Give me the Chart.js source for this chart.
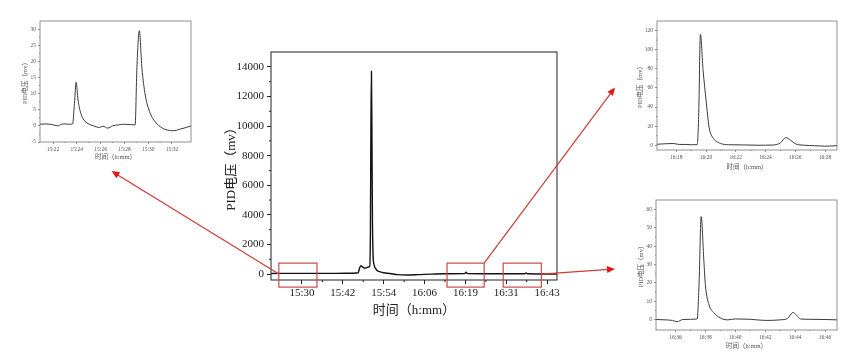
<!DOCTYPE html>
<html>
<head>
<meta charset="utf-8">
<script src="https://cdn.jsdelivr.net/npm/chart.js@4.4.1/dist/chart.umd.min.js"></script>
<style>
  html, body { margin: 0; padding: 0; background: #fff; }
  #page { position: relative; width: 850px; height: 360px; overflow: hidden; background: #fff; }
  #page canvas { position: absolute; }
  #overlay { pointer-events: none; }
</style>
</head>
<body>
<div id="page">
  <canvas id="mainChart" width="350" height="280" style="left:215px;top:40px"></canvas>
  <canvas id="inset1" width="200" height="165" style="left:0px;top:0px"></canvas>
  <canvas id="inset2" width="230" height="172" style="left:620px;top:0px"></canvas>
  <canvas id="inset3" width="230" height="175" style="left:620px;top:185px"></canvas>
  <canvas id="overlay" width="850" height="360" style="left:0;top:0"></canvas>
</div>
<script>
// time values are minutes after 15:00, voltages in mv

// main chart (whole run)
var mainTime = [20.9, 30, 40, 45, 46.5, 46.9, 47.3, 47.8, 48.5, 49.0, 49.5, 49.9, 50.1, 50.25, 50.4, 50.55, 50.7, 50.9, 51.2, 51.6, 52.2, 53, 54, 55.9, 58, 61, 64, 68, 72, 77.8, 78.2, 78.6, 85, 92, 95.4, 95.8, 96.2, 100, 104.9];
var mainMv = [40, 50, 50, 60, 90, 400, 560, 480, 400, 440, 480, 520, 3000, 10000, 13700, 9000, 3500, 1200, 600, 380, 220, 150, 90, 40, -40, -60, -40, 0, 20, 30, 130, 30, 20, 20, 20, 80, 20, 10, 10];
var mainXTickPos = [30, 42, 54, 66, 78, 90, 102];
var mainXTickLabels = ['15:30', '15:42', '15:54', '16:06', '16:19', '16:31', '16:43'];
var mainYTicks = [0, 2000, 4000, 6000, 8000, 10000, 12000, 14000];

// inset 1 (15:21 - 15:33)
var inset1Time = [20.9, 21.4, 21.9, 22.4, 22.7, 23.0, 23.4, 23.64, 23.8, 23.94, 24.1, 24.33, 24.6, 24.94, 25.4, 25.9, 26.2, 26.6, 27.0, 27.5, 28.0, 28.5, 28.9, 29.05, 29.25, 29.47, 29.75, 30.17, 30.6, 31.15, 31.6, 32.2, 32.6, 33.1, 33.6];
var inset1Mv = [0.5, 0.6, 0.4, 0.0, 0.5, 0.6, 0.5, 0.6, 7, 13.5, 8, 3.9, 1.8, 0.7, 0.0, -0.5, -0.1, -0.7, 0.0, 0.3, 0.5, 0.4, 0.3, 18, 29.5, 18, 9.6, 3.9, 1.2, -0.6, -1.3, -1.5, -1.1, -0.6, 0];
var inset1XTicks = ['15:22', '15:24', '15:26', '15:28', '15:30', '15:32'];
var inset1YTicks = [-5, 0, 5, 10, 15, 20, 25, 30];

// inset 2 (16:17 - 16:29)
var inset2Time = [76.7, 77.2, 77.8, 78.2, 78.6, 79.0, 79.4, 79.5, 79.62, 79.8, 80.0, 80.2, 80.5, 80.95, 81.5, 82.5, 83.5, 84.5, 85.0, 85.35, 85.7, 86.0, 86.6, 87.3, 88.0, 88.8];
var inset2Mv = [1.0, 1.5, 1.8, 0.8, 0.8, 0.5, 0.6, 30, 116, 78, 47, 19, 7, 2, 0.5, 0.3, 0, 0.2, 2.5, 8, 5, 1.5, 0, -0.5, -1, -0.5];
var inset2XTicks = ['16:18', '16:20', '16:22', '16:24', '16:26', '16:28'];
var inset2YTicks = [0, 20, 40, 60, 80, 100, 120];

// inset 3 (16:35 - 16:47)
var inset3Time = [94.7, 95.3, 95.8, 96.1, 96.5, 97.0, 97.45, 97.58, 97.72, 97.9, 98.0, 98.25, 98.55, 99.0, 99.5, 100.0, 101.0, 102.0, 103.0, 103.5, 103.85, 104.1, 104.35, 105.0, 106.0, 106.8];
var inset3Mv = [0.2, 0.0, -0.3, -1.0, 0.2, 0.3, 0.5, 20, 56, 32, 19, 8, 4, 1, 0, 0.5, 0.3, -0.3, 0, 0.8, 4, 2.5, 0.5, 0.3, 0.2, 0];
var inset3XTicks = ['16:36', '16:38', '16:40', '16:42', '16:44', '16:46'];
var inset3YTicks = [0, 10, 20, 30, 40, 50, 60];

var serif = "'Liberation Serif', 'Noto Sans CJK SC', serif";
var red = '#c94a47';

// "16:20" -> minutes after 15:00
function toMin(s) {
  var p = s.split(':');
  return (parseInt(p[0], 10) - 15) * 60 + parseInt(p[1], 10);
}

function points(xs, ys) {
  return xs.map(function (x, i) { return { x: x, y: ys[i] }; });
}

// frame round the plot plus small minor ticks between the major ones
var framePlugin = {
  id: 'frame',
  afterDraw: function (chart) {
    var o = chart.options.plugins.frame;
    var ctx = chart.ctx, a = chart.chartArea;
    var xs = chart.scales.x, ys = chart.scales.y;
    ctx.save();
    ctx.strokeStyle = o.color;
    ctx.lineWidth = o.width;
    ctx.strokeRect(a.left, a.top, a.right - a.left, a.bottom - a.top);
    ctx.beginPath();
    for (var i = 0; i < xs.ticks.length - 1; i++) {
      var mx = xs.getPixelForValue((xs.ticks[i].value + xs.ticks[i + 1].value) / 2);
      ctx.moveTo(mx, a.bottom);
      ctx.lineTo(mx, a.bottom + o.minor);
    }
    for (var j = 0; j < ys.ticks.length - 1; j++) {
      var my = ys.getPixelForValue((ys.ticks[j].value + ys.ticks[j + 1].value) / 2);
      ctx.moveTo(a.left, my);
      ctx.lineTo(a.left - o.minor, my);
    }
    ctx.stroke();
    ctx.restore();
  }
};

function makeChart(id, time, mv, cfg) {
  var tickFont = { family: serif, size: cfg.tickSize };
  var titleFont = { family: serif, size: cfg.titleSize };
  return new Chart(document.getElementById(id), {
    type: 'line',
    data: {
      datasets: [{
        data: points(time, mv),
        borderColor: cfg.lineColor,
        borderWidth: cfg.lineWidth,
        pointRadius: 0,
        cubicInterpolationMode: 'monotone',
        fill: false
      }]
    },
    options: {
      responsive: false,
      animation: false,
      events: [],
      layout: { padding: { top: cfg.padTop, right: cfg.padRight, left: 0, bottom: 0 } },
      plugins: {
        legend: { display: false },
        tooltip: { enabled: false },
        frame: { color: cfg.axisColor, width: cfg.frameWidth, minor: cfg.minorTick }
      },
      scales: {
        x: {
          type: 'linear',
          min: cfg.xMin,
          max: cfg.xMax,
          afterBuildTicks: function (s) { s.ticks = cfg.xTickPos.map(function (v) { return { value: v }; }); },
          afterFit: function (s) { s.height = cfg.xHeight; },
          border: { display: false },
          grid: { drawOnChartArea: false, drawTicks: true, tickLength: cfg.majorTick, color: cfg.axisColor, lineWidth: cfg.frameWidth },
          ticks: {
            autoSkip: false, maxRotation: 0, padding: cfg.tickPad, color: cfg.textColor, font: tickFont,
            callback: function (v, i) { return cfg.xTickLabels[i]; }
          },
          title: { display: true, text: '时间（h:mm）', color: cfg.textColor, font: titleFont, padding: { top: 0, bottom: cfg.xTitlePad } }
        },
        y: {
          min: cfg.yMin,
          max: cfg.yMax,
          afterBuildTicks: function (s) { s.ticks = cfg.yTicks.map(function (v) { return { value: v }; }); },
          afterFit: function (s) { s.width = cfg.yWidth; },
          border: { display: false },
          grid: { drawOnChartArea: false, drawTicks: true, tickLength: cfg.majorTick, color: cfg.axisColor, lineWidth: cfg.frameWidth },
          ticks: {
            autoSkip: false, padding: cfg.tickPad, color: cfg.textColor, font: tickFont,
            callback: function (v) { return String(v); }
          },
          title: { display: true, text: 'PID电压（mv）', color: cfg.textColor, font: titleFont, padding: { top: cfg.yTitlePad, bottom: 0 } }
        }
      }
    },
    plugins: [framePlugin, cfg.extra || { id: 'none' }]
  });
}

// red boxes on the main chart, in data units
var zoomBoxes = [[23.2, 34.4], [72.6, 83.5], [89.1, 100.3]];
var boxMv = [-880, 740];

var boxPlugin = {
  id: 'boxes',
  afterDraw: function (chart) {
    var ctx = chart.ctx, xs = chart.scales.x, ys = chart.scales.y;
    ctx.save();
    ctx.strokeStyle = red;
    ctx.lineWidth = 1.2;
    zoomBoxes.forEach(function (b) {
      var x0 = xs.getPixelForValue(b[0]), x1 = xs.getPixelForValue(b[1]);
      var y0 = ys.getPixelForValue(boxMv[1]), y1 = ys.getPixelForValue(boxMv[0]);
      ctx.strokeRect(x0, y0, x1 - x0, y1 - y0);
    });
    ctx.restore();
  }
};

var mainChart = makeChart('mainChart', mainTime, mainMv, {
  lineColor: '#111', lineWidth: 1.4, axisColor: '#222', frameWidth: 1, textColor: '#222',
  tickSize: 11, titleSize: 13, majorTick: 4, minorTick: 2, tickPad: 3,
  padTop: 12, padRight: 8, xHeight: 40, yWidth: 56, xTitlePad: 2, yTitlePad: 9,
  xMin: 20.9, xMax: 104.9, xTickPos: mainXTickPos, xTickLabels: mainXTickLabels,
  yMin: -400, yMax: 15000, yTicks: mainYTicks, extra: boxPlugin
});

var insetStyle = {
  lineColor: '#3a3a3a', lineWidth: 1, axisColor: '#777', frameWidth: 0.8, textColor: '#555',
  tickSize: 5.5, titleSize: 6.5, majorTick: 2, minorTick: 1, tickPad: 2
};

function insetCfg(extra) {
  var c = {};
  Object.keys(insetStyle).forEach(function (k) { c[k] = insetStyle[k]; });
  Object.keys(extra).forEach(function (k) { c[k] = extra[k]; });
  return c;
}

var inset1 = makeChart('inset1', inset1Time, inset1Mv, insetCfg({
  padTop: 21, padRight: 9, xHeight: 23, yWidth: 40, xTitlePad: 4, yTitlePad: 21,
  xMin: 20.9, xMax: 33.6, xTickPos: inset1XTicks.map(toMin), xTickLabels: inset1XTicks,
  yMin: -5, yMax: 32.5, yTicks: inset1YTicks
}));

var inset2 = makeChart('inset2', inset2Time, inset2Mv, insetCfg({
  padTop: 21, padRight: 13, xHeight: 22, yWidth: 37, xTitlePad: 1, yTitlePad: 16,
  xMin: 76.7, xMax: 88.8, xTickPos: inset2XTicks.map(toMin), xTickLabels: inset2XTicks,
  yMin: -5, yMax: 130, yTicks: inset2YTicks
}));

var inset3 = makeChart('inset3', inset3Time, inset3Mv, insetCfg({
  padTop: 15, padRight: 13, xHeight: 30, yWidth: 36, xTitlePad: 10, yTitlePad: 17,
  xMin: 94.7, xMax: 106.8, xTickPos: inset3XTicks.map(toMin), xTickLabels: inset3XTicks,
  yMin: -5.5, yMax: 65, yTicks: inset3YTicks
}));

// arrows from the boxes to the zoomed charts
function onPage(chart, x, y) {
  return [chart.canvas.offsetLeft + x, chart.canvas.offsetTop + y];
}

function arrow(ctx, from, to) {
  var ang = Math.atan2(to[1] - from[1], to[0] - from[0]);
  ctx.beginPath();
  ctx.moveTo(from[0], from[1]);
  ctx.lineTo(to[0] - 6 * Math.cos(ang), to[1] - 6 * Math.sin(ang));
  ctx.stroke();
  ctx.beginPath();
  ctx.moveTo(to[0], to[1]);
  ctx.lineTo(to[0] - 8 * Math.cos(ang) + 3.5 * Math.sin(ang), to[1] - 8 * Math.sin(ang) - 3.5 * Math.cos(ang));
  ctx.lineTo(to[0] - 8 * Math.cos(ang) - 3.5 * Math.sin(ang), to[1] - 8 * Math.sin(ang) + 3.5 * Math.cos(ang));
  ctx.closePath();
  ctx.fill();
}

var octx = document.getElementById('overlay').getContext('2d');
var mx = mainChart.scales.x, my = mainChart.scales.y;
var a1 = inset1.chartArea, a2 = inset2.chartArea, a3 = inset3.chartArea;
octx.strokeStyle = '#cc3b36';
octx.fillStyle = '#e01818';
octx.lineWidth = 1.2;
arrow(octx,
  onPage(mainChart, mx.getPixelForValue(zoomBoxes[0][0]), my.getPixelForValue(0)),
  onPage(inset1, (a1.left + a1.right) / 2 - 4, inset1.height + 6));
arrow(octx,
  onPage(mainChart, mx.getPixelForValue(zoomBoxes[1][1]), my.getPixelForValue(boxMv[1])),
  onPage(inset2, -5, (a2.top + a2.bottom) / 2 + 2));
arrow(octx,
  onPage(mainChart, mx.getPixelForValue(zoomBoxes[2][1]), my.getPixelForValue(0)),
  onPage(inset3, -5, (a3.top + a3.bottom) / 2 + 4));
</script>
</body>
</html>
